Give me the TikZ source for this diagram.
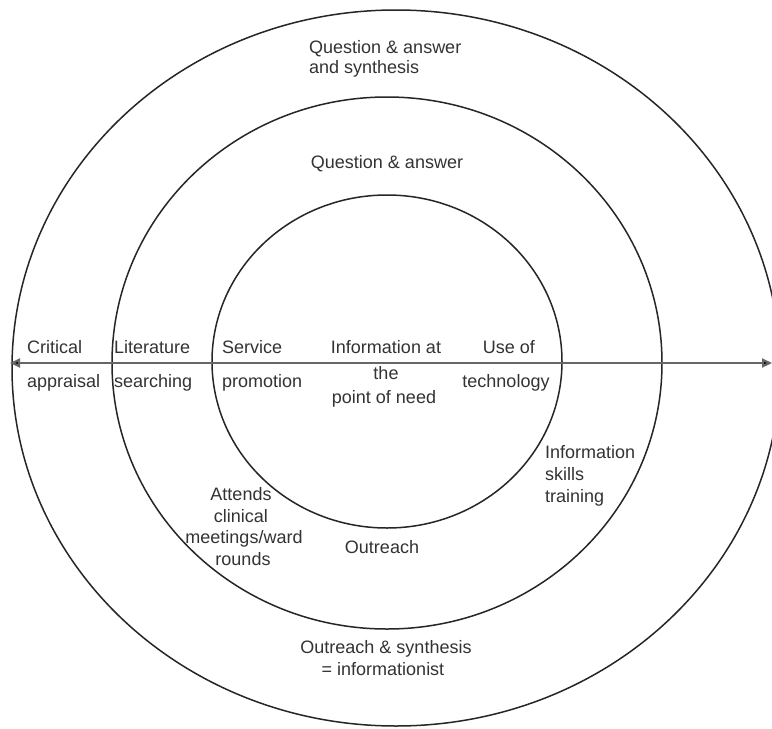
\documentclass[tikz,border=0pt]{standalone}
\usepackage{fontspec}
\setmainfont{Liberation Sans}
\usetikzlibrary{arrows.meta}
\begin{document}
\begin{tikzpicture}[x=1pt,y=-1pt,
  lbl/.style={inner sep=0pt, text=black!80, font=\fontsize{18}{21.6}\selectfont},
  ring/.style={draw=black!85, line width=1.5pt},
  axis/.style={draw=black!60, line width=2.2pt, {Triangle[length=10pt,width=9pt,fill=black]}-{Triangle[length=10pt,width=9pt,fill=black]}}]
\useasboundingbox (0,0) rectangle (772,729);
\clip (0,0) rectangle (772,729);
\fill[white] (0,0) rectangle (772,729);
% rings
\draw[ring] (396,368) ellipse [x radius=384, y radius=358];
\draw[ring] (387,363) ellipse [x radius=275, y radius=266];
\draw[ring] (387,361.5) ellipse [x radius=175, y radius=166.5];
% axis
\coordinate (L) at (10,363);
\coordinate (R) at (772,363);
\draw[axis] (L) -- (R);
% outer ring top
\node[lbl, anchor=base west] (qas1) at (309,53) {Question \& answer};
\node[lbl, anchor=base west] (qas2) at (309,73) {and synthesis};
% middle ring top
\node[lbl, anchor=base] (qa) at (387,168) {Question \& answer};
% along the axis
\node[lbl, anchor=base west] (crit) at (27,353) {Critical};
\node[lbl, anchor=base west] (appr) at (27,387) {appraisal};
\node[lbl, anchor=base west] (lit) at (114,353) {Literature};
\node[lbl, anchor=base west] (sea) at (114,387) {searching};
\node[lbl, anchor=base west] (serv) at (222,353) {Service};
\node[lbl, anchor=base west] (prom) at (222,387) {promotion};
\node[lbl, anchor=base] (info) at (386,353) {Information at};
\node[lbl, anchor=base] (the) at (386,379) {the};
\node[lbl, anchor=base] (pon) at (384,403) {point of need};
\node[lbl, anchor=base] (use) at (509,353) {Use of};
\node[lbl, anchor=base] (tech) at (506,387) {technology};
% lower labels
\node[lbl, anchor=base west] (ist1) at (545,458) {Information};
\node[lbl, anchor=base west] (ist2) at (545,480) {skills};
\node[lbl, anchor=base west] (ist3) at (545,502) {training};
\node[lbl, anchor=base] (att) at (241,500) {Attends};
\node[lbl, anchor=base] (cli) at (241,522) {clinical};
\node[lbl, anchor=base] (mee) at (244,543) {meetings/ward};
\node[lbl, anchor=base] (rou) at (243,565) {rounds};
\node[lbl, anchor=base] (out) at (382,553) {Outreach};
\node[lbl, anchor=base] (os1) at (386,653) {Outreach \& synthesis};
\node[lbl, anchor=base] (os2) at (383,675) {= informationist};
\end{tikzpicture}
\end{document}
